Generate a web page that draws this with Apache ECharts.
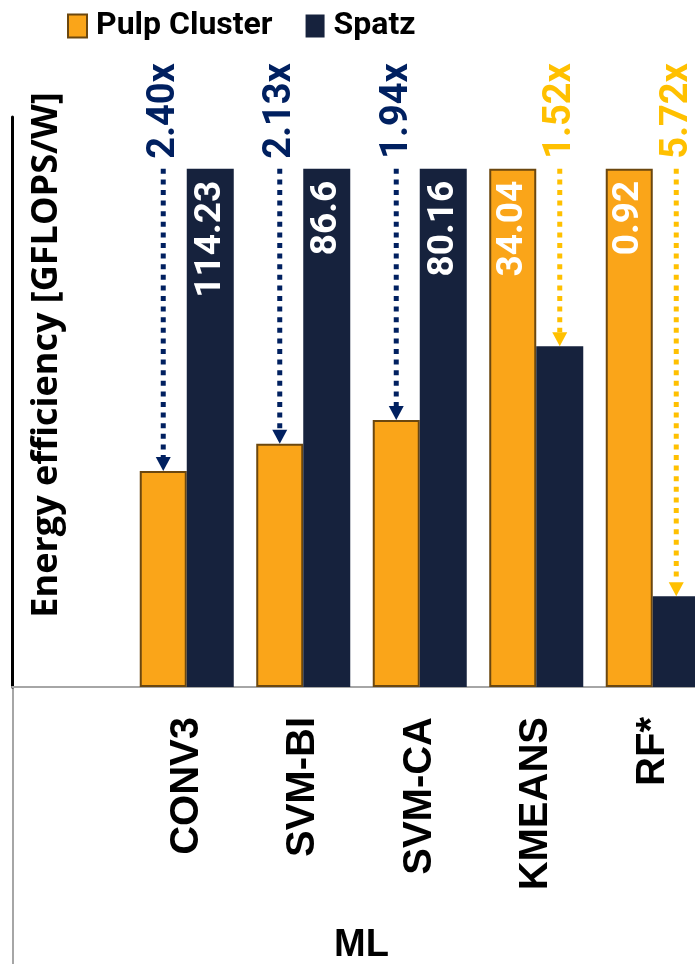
<!DOCTYPE html>
<html>
<head>
<meta charset="utf-8">
<script src="https://cdn.jsdelivr.net/npm/echarts@6/dist/echarts.min.js"></script>
<style>
  html, body { margin: 0; padding: 0; background: #fff; }
  #chart { width: 695px; height: 964px; }
</style>
</head>
<body>
<div id="chart"></div>
<script>
// Energy efficiency per kernel (GFLOPS/W); first slot is an empty group
const categories = ['', 'CONV3', 'SVM-BI', 'SVM-CA', 'KMEANS', 'RF*'];
const pulpCluster = [null, 47.60, 40.66, 41.32, 34.04, 0.92];
const spatz = [null, 114.23, 86.60, 80.16, 22.39, 0.161];
const speedups = ['', '2.40x', '2.13x', '1.94x', '1.52x', '5.72x'];

const PULP = '#FAA519';
const PULP_EDGE = '#6B470F';
const SPATZ = '#16223D';
const WIN_SPATZ = '#002060';
const WIN_PULP = '#FFC000';
const CAT_GAP = 0.193;

// Each group is scaled so that the more efficient design reaches 1
function norm(i, v) {
  if (v == null) return null;
  return v / Math.max(pulpCluster[i], spatz[i]);
}
function barData(arr, other) {
  return arr.map((v, i) => {
    if (v == null) return null;
    const top = v >= other[i];
    return { value: norm(i, v), raw: v, label: { show: top } };
  });
}

const arrows = [];
categories.forEach((c, i) => {
  if (pulpCluster[i] == null) return;
  const spatzWins = spatz[i] > pulpCluster[i];
  const low = spatzWins ? norm(i, pulpCluster[i]) : norm(i, spatz[i]);
  arrows.push([i, low, spatzWins ? -1 : 1, spatzWins ? 1 : 0]);
});

const valueLabel = {
  position: 'insideTop',
  rotate: 90,
  align: 'right',
  verticalAlign: 'middle',
  distance: 12,
  color: '#fff',
  fontFamily: 'Roboto',
  fontWeight: 'bold',
  fontSize: 37,
  formatter: p => String(p.data.raw)
};

const chart = echarts.init(document.getElementById('chart'));
chart.setOption({
  animation: false,
  legend: {
    left: 62,
    top: 5,
    itemWidth: 19,
    itemHeight: 23,
    itemGap: 33,
    icon: 'rect',
    textStyle: { fontFamily: 'Roboto', fontWeight: 'bold', fontSize: 32, color: '#000', padding: [0, 0, 0, 4] },
    data: ['Pulp Cluster', 'Spatz']
  },
  // the plot runs a little past the right edge of the page
  grid: { left: 12, width: 699, top: 117, bottom: 277, outerBoundsMode: 'none', containLabel: false },
  xAxis: {
    type: 'category',
    data: categories,
    axisLine: { lineStyle: { color: '#A6A6A6', width: 2 } },
    axisTick: { show: false },
    axisLabel: {
      rotate: 90,
      margin: 30,
      interval: 0,
      fontFamily: 'Liberation Sans',
      fontWeight: 'bold',
      fontSize: 40,
      color: '#000'
    },
    name: 'ML',
    nameLocation: 'middle',
    nameGap: 240,
    nameTextStyle: { fontFamily: 'Liberation Sans', fontWeight: 'bold', fontSize: 38, color: '#000' }
  },
  yAxis: {
    type: 'value',
    min: 0,
    max: 1.1,
    axisLine: { show: true, lineStyle: { color: '#000', width: 3 } },
    axisTick: { show: false },
    axisLabel: { show: false },
    splitLine: { show: false }
  },
  graphic: [
    {
      type: 'text',
      x: 47,
      y: 355,
      rotation: Math.PI / 2,
      style: {
        text: 'Energy efficiency [GFLOPS/W]',
        fontFamily: 'Open Sans',
        fontWeight: 'bold',
        fontSize: 36,
        fill: '#000',
        textAlign: 'center',
        textVerticalAlign: 'middle'
      }
    },
    {
      type: 'line',
      shape: { x1: 13, y1: 687, x2: 13, y2: 964 },
      style: { stroke: '#A6A6A6', lineWidth: 2 }
    }
  ],
  series: [
    {
      name: 'Pulp Cluster',
      type: 'bar',
      barGap: '0%',
      barCategoryGap: (CAT_GAP * 100) + '%',
      itemStyle: { color: PULP, borderColor: PULP_EDGE, borderWidth: 2 },
      label: valueLabel,
      data: barData(pulpCluster, spatz)
    },
    {
      name: 'Spatz',
      type: 'bar',
      itemStyle: { color: SPATZ },
      label: valueLabel,
      data: barData(spatz, pulpCluster)
    },
    {
      type: 'custom',
      clip: false,
      silent: true,
      data: arrows,
      encode: { x: 0, y: 1 },
      renderItem: (params, api) => {
        const idx = api.value(0);
        const low = api.value(1);
        const side = api.value(2);
        const color = api.value(3) ? WIN_SPATZ : WIN_PULP;
        const top = api.coord([idx, 1]);
        const bot = api.coord([idx, low]);
        const band = api.size([1, 0])[0];
        const bw = band * (1 - CAT_GAP) / 2;
        const x = top[0] + side * bw / 2;
        const head = 14;
        return {
          type: 'group',
          children: [
            {
              type: 'line',
              shape: { x1: x, y1: top[1], x2: x, y2: bot[1] - head },
              style: { stroke: color, lineWidth: 5, lineDash: [5, 5.6], lineCap: 'butt' }
            },
            {
              type: 'polygon',
              shape: { points: [[x - 7.5, bot[1] - head], [x + 7.5, bot[1] - head], [x, bot[1]]] },
              style: { fill: color }
            },
            {
              type: 'text',
              x: x + 1,
              y: top[1] - 10,
              rotation: Math.PI / 2,
              style: {
                text: speedups[idx],
                fontFamily: 'Roboto',
                fontWeight: 'bold',
                fontSize: 38,
                fill: color,
                textAlign: 'left',
                textVerticalAlign: 'middle'
              }
            }
          ]
        };
      }
    }
  ]
});
</script>
</body>
</html>
